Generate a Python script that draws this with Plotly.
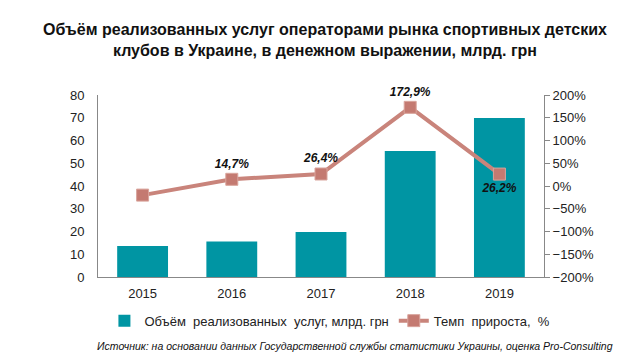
import plotly.graph_objects as go

years = ["2015", "2016", "2017", "2018", "2019"]
volume = [13.6, 15.6, 19.8, 55.4, 69.9]
growth = [-20.0, 14.7, 26.4, 172.9, 26.2]
growth_labels = ["", "14,7%", "26,4%", "172,9%", "26,2%"]
label_positions = ["top center", "top center", "top center", "top center", "bottom center"]

FONT = "Liberation Sans, Arial, sans-serif"

fig = go.Figure()
fig.add_trace(go.Bar(
    x=years, y=volume,
    name="Объём  реализованных  услуг, млрд. грн",
    marker=dict(color="#0095A3", line=dict(width=0)),
    yaxis="y",
))
fig.add_trace(go.Scatter(
    x=years, y=growth,
    name="Темп  прироста,  %",
    mode="lines+markers+text",
    line=dict(color="#C9847B", width=4),
    marker=dict(symbol="square", size=12, color="#C47A71", line=dict(color="#D9A49C", width=1)),
    text=growth_labels,
    textposition=label_positions,
    textfont=dict(family=FONT, size=12, color="#111111", weight="bold", style="italic"),
    cliponaxis=False,
    yaxis="y2",
))

fig.update_layout(
    width=642, height=363,
    margin=dict(l=98, r=98, t=95, b=86),
    paper_bgcolor="white", plot_bgcolor="white",
    font=dict(family=FONT, size=13, color="#222222"),
    bargap=0.43,
    showlegend=True,
    legend=dict(orientation="h", x=0.52, xanchor="center", y=-0.24, yanchor="middle",
                font=dict(size=13, color="#222222"), tracegroupgap=0),
    xaxis=dict(type="category", showline=True, linecolor="#888888", linewidth=1,
               ticks="", showgrid=False, tickfont=dict(size=13), ticklabelstandoff=4),
    yaxis=dict(range=[0, 80], dtick=10, showline=True, linecolor="#888888", linewidth=1,
               showgrid=False, zeroline=False, ticks="", tickfont=dict(size=13),
               ticklabelstandoff=10),
    yaxis2=dict(range=[-200, 200], dtick=50, overlaying="y", side="right", ticksuffix="%",
                showline=True, linecolor="#888888", linewidth=1, ticks="outside", ticklen=5,
                tickcolor="#888888", showgrid=False, zeroline=False, tickfont=dict(size=13)),
    annotations=[
        dict(text="Объём реализованных услуг операторами рынка спортивных детских<br>клубов в Украине, в денежном выражении, млрд. грн",
             xref="paper", yref="paper", x=0.51, y=1.0, yshift=55, xanchor="center", yanchor="middle",
             showarrow=False, font=dict(family=FONT, size=16, color="#111111", weight="bold")),
        dict(text="Источник: на основании данных Государственной службы статистики Украины, оценка Pro-Consulting",
             xref="paper", yref="paper", x=1.16, y=-0.38, xanchor="right", yanchor="middle",
             showarrow=False, font=dict(family=FONT, size=10.5, color="#111111", style="italic")),
    ],
)

fig.write_html("out.html", config={"displayModeBar": False},
               post_script="document.body.style.margin='0';document.body.style.padding='0';")
